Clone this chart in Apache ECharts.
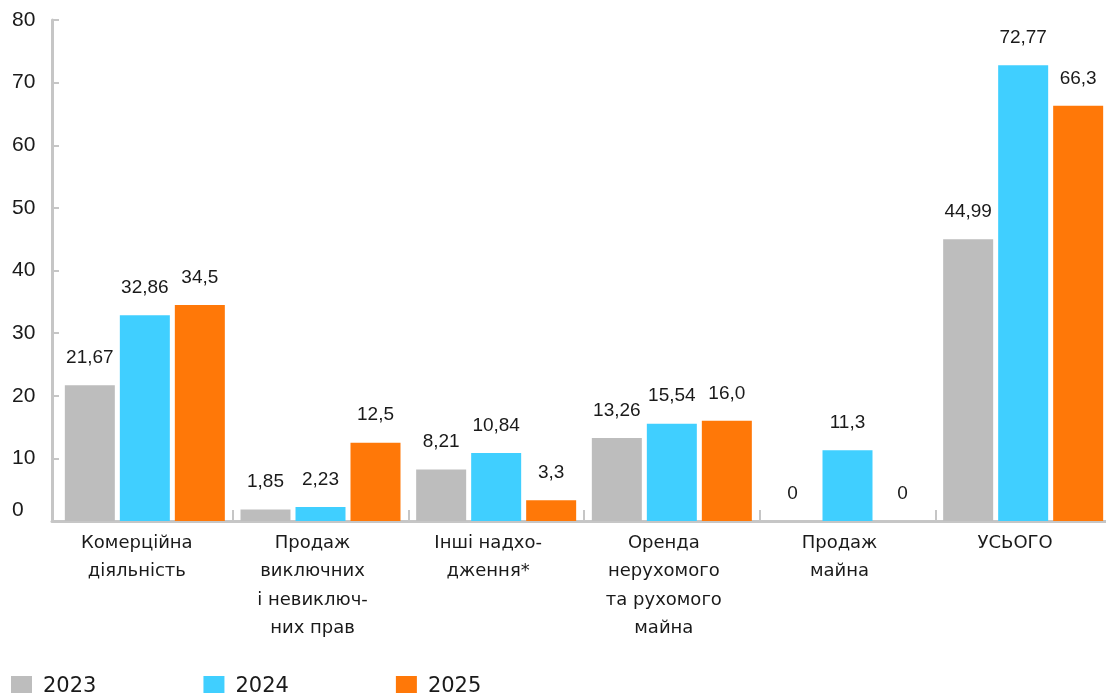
<!DOCTYPE html>
<html><head><meta charset="utf-8">
<script src="https://cdn.jsdelivr.net/npm/echarts@6/dist/echarts.min.js"></script>
<style>html,body{margin:0;padding:0;background:#fff}#c{width:1106px;height:693px}</style>
</head><body><div id="c"></div>
<script>
const categories = ['Комерційна\nдіяльність', 'Продаж\nвиключних\nі невиключ-\nних прав', 'Інші надхо-\nдження*', 'Оренда\nнерухомого\nта рухомого\nмайна', 'Продаж\nмайна', 'УСЬОГО'];
const seriesNames = ['2023', '2024', '2025'];
const values2023 = [21.67, 1.85, 8.21, 13.26, 0, 44.99];
const values2024 = [32.86, 2.23, 10.84, 15.54, 11.3, 72.77];
const values2025 = [34.5, 12.5, 3.3, 16.0, 0, 66.3];
const yMin = 0, yMax = 80, yInterval = 10;
const colors = ['#bdbdbd', '#40cfff', '#ff7808'];

const axisGray = '#c6c6c6';
const textColor = '#1a1a1a';
const labelFont = 'Liberation Sans, Arial, sans-serif';
const catFont = 'DejaVu Sans, sans-serif';

function fmt(v) {
  if (v === 0) return '0';
  if (Number.isInteger(v)) return v.toFixed(1).replace('.', ',');
  return String(v).replace('.', ',');
}

const allValues = [values2023, values2024, values2025];
const series = seriesNames.map((name, i) => ({
  name: name,
  type: 'bar',
  data: allValues[i],
  barWidth: 50,
  barGap: '10%',
  itemStyle: { color: colors[i] },
  label: {
    show: true, position: 'top', distance: 18,
    fontFamily: labelFont, fontSize: 19, color: textColor,
    formatter: p => fmt(p.value)
  }
}));

const chart = echarts.init(document.getElementById('c'), null, { renderer: 'canvas' });
chart.setOption({
  animation: false,
  backgroundColor: '#fff',
  color: colors,
  grid: [
    { left: 57, top: 20, width: 1054, bottom: 172, outerBoundsMode: 'none', containLabel: false },
    { left: 52, top: 20, width: 1060, bottom: 172, outerBoundsMode: 'none', containLabel: false }
  ],
  legend: {
    left: 6, top: 671, itemWidth: 21, itemHeight: 21, itemGap: 107, icon: 'rect',
    data: seriesNames,
    textStyle: { fontFamily: catFont, fontSize: 21, color: textColor, padding: [0, 0, 0, 6] }
  },
  xAxis: [
    {
      type: 'category', data: categories, gridIndex: 0,
      axisLine: { show: true, lineStyle: { color: axisGray, width: 3 } },
      axisTick: { show: true, inside: true, length: 11, interval: (i) => i > 0, lineStyle: { color: axisGray, width: 2 } },
      axisLabel: { interval: 0, margin: 8, fontFamily: catFont, fontSize: 18, lineHeight: 28.5, color: textColor, padding: [0, 16, 0, 0] },
      splitLine: { show: false }
    },
    {
      type: 'value', gridIndex: 1, min: 0, max: 1,
      axisLine: { show: true, lineStyle: { color: axisGray, width: 3 } },
      axisTick: { show: false }, axisLabel: { show: false }, splitLine: { show: false }
    }
  ],
  yAxis: [
    {
      type: 'value', gridIndex: 0, min: yMin, max: yMax, interval: yInterval, offset: 5,
      axisLine: { show: true, lineStyle: { color: axisGray, width: 3 } },
      axisTick: { show: true, inside: true, length: 7, lineStyle: { color: axisGray, width: 2 } },
      splitLine: { show: false },
      axisLabel: {
        align: 'left', margin: 40, fontFamily: labelFont, fontSize: 21, color: textColor,
        formatter: v => v === 0 ? '{z|0}' : '{a|' + v + '}',
        rich: {
          z: { fontFamily: labelFont, fontSize: 21, color: textColor, padding: [0, 0, 22, 0] },
          a: { fontFamily: labelFont, fontSize: 21, color: textColor }
        }
      }
    },
    { type: 'value', gridIndex: 1, show: false, min: 0, max: 1 }
  ],
  series: series
});
</script>
</body></html>
